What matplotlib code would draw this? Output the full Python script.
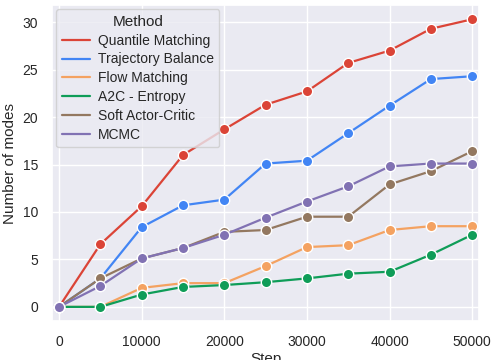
import matplotlib
matplotlib.use("Agg")
import matplotlib.pyplot as plt
import seaborn as sns

steps = [0, 5000, 10000, 15000, 20000, 25000, 30000, 35000, 40000, 45000, 50000]
methods = ["Quantile Matching", "Trajectory Balance", "Flow Matching",
           "A2C - Entropy", "Soft Actor-Critic", "MCMC"]
quantile = [0, 6.6, 10.6, 16.0, 18.7, 21.3, 22.7, 25.7, 27.0, 29.3, 30.3]
trajectory = [0, 3.0, 8.4, 10.7, 11.3, 15.1, 15.4, 18.3, 21.2, 24.0, 24.3]
flow = [0, 0, 2.0, 2.5, 2.5, 4.3, 6.3, 6.5, 8.1, 8.5, 8.5]
a2c = [0, 0, 1.3, 2.1, 2.3, 2.6, 3.0, 3.5, 3.7, 5.5, 7.6]
sac = [0, 3.0, 5.1, 6.2, 7.9, 8.1, 9.5, 9.5, 12.9, 14.3, 16.4]
mcmc = [0, 2.2, 5.1, 6.2, 7.6, 9.4, 11.1, 12.7, 14.8, 15.1, 15.1]
series = [quantile, trajectory, flow, a2c, sac, mcmc]
colors = ["#db4437", "#4285f4", "#f4a261", "#0f9d58", "#937860", "#8172b3"]

sns.set_theme(style="darkgrid")
plt.rcParams["font.family"] = ["Liberation Sans", "DejaVu Sans"]

fig = plt.figure(figsize=(4.91, 3.6), dpi=100)
ax = fig.add_axes([0.106, 0.108, 0.870, 0.878])
for name, vals, c in zip(methods, series, colors):
    ax.plot(steps, vals, color=c, lw=1.6, marker="o", ms=7.5,
            mec="white", mew=1.0, label=name)

ax.set_xlim(-850, 50850)
ax.set_ylim(-1.5, 31.8)
ax.set_xticks([0, 10000, 20000, 30000, 40000, 50000])
ax.set_yticks([0, 5, 10, 15, 20, 25, 30])
ax.tick_params(labelsize=10, pad=4)
ax.set_xlabel("Step", fontsize=11, labelpad=2)
ax.set_ylabel("Number of modes", fontsize=11)

# legend shows plain line handles, no markers
leg = ax.legend(title="Method", loc="upper left", fontsize=10, title_fontsize=11,
                handlelength=2.0, handletextpad=0.6, labelspacing=0.35,
                borderpad=0.4, borderaxespad=0.3)
for h in leg.get_lines():
    h.set_marker("")

fig.savefig("out.png", dpi=100)
